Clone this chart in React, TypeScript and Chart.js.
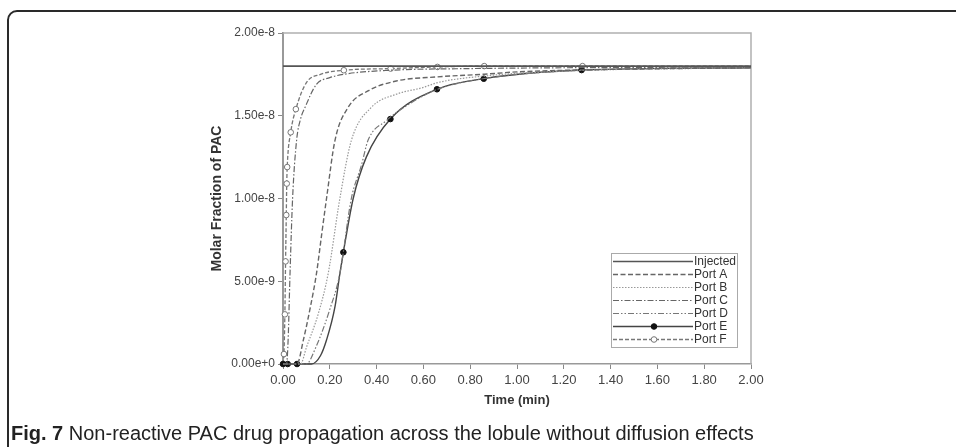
import React, { useEffect, useRef } from "react";
import { Chart, registerables } from "chart.js";

Chart.register(...registerables);

// ---- data (values in units of 1e-8 molar fraction) ----
const UNIT = 1e-8;

const injectedT = [0, 2.0];
const injectedV = [1.8, 1.8];

const portAT = [0, 0.06, 0.087, 0.115, 0.143, 0.165, 0.186, 0.222, 0.278, 0.363, 0.484, 0.66, 0.86, 1.0, 1.4, 2.0];
const portAV = [0, 0, 0.145, 0.33, 0.546, 0.78, 1.0, 1.35, 1.55, 1.65, 1.71, 1.735, 1.751, 1.765, 1.78, 1.79];

const portBT = [0, 0.075, 0.1, 0.15, 0.193, 0.243, 0.292, 0.377, 0.484, 0.597, 0.66, 0.86, 1.2, 2.0];
const portBV = [0, 0, 0.1, 0.3, 0.546, 1.0, 1.35, 1.55, 1.63, 1.67, 1.7, 1.74, 1.77, 1.79];

const portCT = [0, 0.015, 0.022, 0.03, 0.041, 0.058, 0.075, 0.094, 0.143, 0.2, 0.257, 0.46, 0.8, 1.2, 2.0];
const portCV = [0, 0, 0.15, 0.546, 1.0, 1.35, 1.48, 1.55, 1.69, 1.73, 1.75, 1.775, 1.785, 1.79, 1.795];

const portDT = [0, 0.1, 0.14, 0.2, 0.243, 0.292, 0.335, 0.363, 0.441, 0.55, 0.66, 0.86, 1.28, 2.0];
const portDV = [0, 0, 0.1, 0.33, 0.546, 1.0, 1.2, 1.35, 1.47, 1.58, 1.66, 1.725, 1.775, 1.79];

const portET = [0, 0.02, 0.06, 0.122, 0.16, 0.186, 0.222, 0.243, 0.258, 0.3, 0.356, 0.459, 0.658, 0.858, 1.276, 2.0];
const portEV = [0, 0, 0, 0, 0.05, 0.145, 0.345, 0.546, 0.675, 1.0, 1.25, 1.48, 1.66, 1.724, 1.776, 1.79];
const portEMarks = [1, 1, 1, 0, 0, 0, 0, 0, 1, 0, 0, 1, 1, 1, 1, 0];

const portFT = [0, 0.004, 0.008, 0.011, 0.014, 0.016, 0.018, 0.033, 0.055, 0.1, 0.16, 0.26, 0.46, 0.66, 0.86, 1.28, 2.0];
const portFV = [0, 0.06, 0.3, 0.62, 0.9, 1.09, 1.19, 1.4, 1.54, 1.7, 1.75, 1.775, 1.785, 1.795, 1.8, 1.8, 1.8];
const portFMarks = [0, 1, 1, 1, 1, 1, 1, 1, 1, 0, 0, 1, 1, 1, 1, 1, 0];

const seriesLabels = ["Injected", "Port A", "Port B", "Port C", "Port D", "Port E", "Port F"];
const xTickLabels = ["0.00", "0.20", "0.40", "0.60", "0.80", "1.00", "1.20", "1.40", "1.60", "1.80", "2.00"];
const yTickLabels = ["0.00e+0", "5.00e-9", "1.00e-8", "1.50e-8", "2.00e-8"];
const xTitle = "Time (min)";
const yTitle = "Molar Fraction of PAC";
const captionBold = "Fig. 7";
const captionText = " Non-reactive PAC drug propagation across the lobule without diffusion effects";

const FONT = "'Liberation Sans', Arial, sans-serif";

function pts(t: number[], v: number[]) {
  return t.map((x, i) => ({ x, y: v[i] * UNIT }));
}

const legendPlugin = {
  id: "insetLegend",
  afterDraw(chart: any) {
    const { ctx, chartArea } = chart;
    const w = 126;
    const h = 94;
    const right = chartArea.right - 14;
    const bottom = chartArea.bottom - 17;
    const left = right - w;
    const top = bottom - h;
    ctx.save();
    ctx.fillStyle = "#fff";
    ctx.fillRect(left, top, w, h);
    ctx.strokeStyle = "#aaa";
    ctx.lineWidth = 1;
    ctx.setLineDash([]);
    ctx.strokeRect(Math.round(left) + 0.5, Math.round(top) + 0.5, w, h);
    chart.data.datasets.forEach((ds: any, i: number) => {
      const y = Math.round(top + 8 + i * 13.0) + 0.5;
      ctx.beginPath();
      ctx.setLineDash(ds.borderDash || []);
      ctx.strokeStyle = ds.borderColor;
      ctx.lineWidth = ds.borderWidth;
      ctx.moveTo(left + 2, y);
      ctx.lineTo(left + 82, y);
      ctx.stroke();
      ctx.setLineDash([]);
      if (ds.legendMarker) {
        ctx.beginPath();
        ctx.arc(left + 43, y, 2.8, 0, Math.PI * 2);
        ctx.fillStyle = ds.pointBackgroundColor;
        ctx.fill();
        ctx.strokeStyle = ds.pointBorderColor;
        ctx.lineWidth = 1;
        ctx.stroke();
      }
      ctx.fillStyle = "#333";
      ctx.font = `12px ${FONT}`;
      ctx.textBaseline = "middle";
      ctx.textAlign = "left";
      ctx.fillText(ds.label, left + 83, y + 0.5);
    });
    ctx.restore();
  },
};

const framePlugin = {
  id: "plotFrame",
  beforeDatasetsDraw(chart: any) {
    const { ctx, chartArea } = chart;
    ctx.save();
    ctx.strokeStyle = "#b0b0b0";
    ctx.lineWidth = 1.5;
    ctx.beginPath();
    ctx.moveTo(chartArea.left, chartArea.top);
    ctx.lineTo(chartArea.right, chartArea.top);
    ctx.lineTo(chartArea.right, chartArea.bottom);
    ctx.stroke();
    ctx.restore();
  },
};

export default function App() {
  const canvasRef = useRef<HTMLCanvasElement | null>(null);

  useEffect(() => {
    if (!canvasRef.current) return;
    const base = {
      fill: false,
      cubicInterpolationMode: "monotone" as const,
      pointRadius: 0,
      pointHoverRadius: 0,
      clip: false as const,
    };
    const chart = new Chart(canvasRef.current, {
      type: "line",
      data: {
        datasets: [
          { ...base, label: seriesLabels[0], data: pts(injectedT, injectedV), borderColor: "#555", borderWidth: 1.6, borderDash: [] },
          { ...base, label: seriesLabels[1], data: pts(portAT, portAV), borderColor: "#666", borderWidth: 1.4, borderDash: [5, 2.5] },
          { ...base, label: seriesLabels[2], data: pts(portBT, portBV), borderColor: "#999", borderWidth: 1.2, borderDash: [1.5, 1.5] },
          { ...base, label: seriesLabels[3], data: pts(portCT, portCV), borderColor: "#666", borderWidth: 1.2, borderDash: [6, 2, 1.5, 2] },
          { ...base, label: seriesLabels[4], data: pts(portDT, portDV), borderColor: "#777", borderWidth: 1.2, borderDash: [6, 2, 1.5, 2, 1.5, 2] },
          {
            ...base,
            label: seriesLabels[5],
            data: pts(portET, portEV),
            borderColor: "#444",
            borderWidth: 1.4,
            borderDash: [],
            pointRadius: portEMarks.map((m) => (m ? 2.8 : 0)),
            pointBackgroundColor: "#111",
            pointBorderColor: "#111",
            pointBorderWidth: 1,
            legendMarker: true,
          } as any,
          {
            ...base,
            label: seriesLabels[6],
            data: pts(portFT, portFV),
            borderColor: "#777",
            borderWidth: 1.3,
            borderDash: [4, 2],
            pointRadius: portFMarks.map((m) => (m ? 2.8 : 0)),
            pointBackgroundColor: "#fff",
            pointBorderColor: "#777",
            pointBorderWidth: 1,
            legendMarker: true,
          } as any,
        ],
      },
      options: {
        animation: false,
        responsive: false,
        devicePixelRatio: 1,
        layout: { padding: { left: 206, right: 205, top: 33, bottom: 39 } },
        plugins: { legend: { display: false }, tooltip: { enabled: false } },
        scales: {
          x: {
            type: "linear",
            min: 0,
            max: 2,
            ticks: {
              stepSize: 0.2,
              autoSkip: false,
              maxRotation: 0,
              color: "#444",
              padding: 4,
              font: { family: FONT, size: 13 },
              callback: (_v: any, i: number) => xTickLabels[i] ?? "",
            },
            grid: { drawOnChartArea: false, drawTicks: true, tickLength: 5, color: "#888" },
            border: { display: true, color: "#999", width: 1.5 },
            title: { display: true, text: xTitle, color: "#333", padding: 0, font: { family: FONT, size: 13, weight: "bold" } },
            afterFit: (s: any) => {
              s.height = 44;
            },
          },
          y: {
            type: "linear",
            min: 0,
            max: 2 * UNIT,
            ticks: {
              stepSize: 0.5 * UNIT,
              autoSkip: false,
              color: "#444",
              padding: 3,
              font: { family: FONT, size: 12 },
              callback: (_v: any, i: number) => yTickLabels[i] ?? "",
            },
            grid: { drawOnChartArea: false, drawTicks: true, tickLength: 5, color: "#888" },
            border: { display: true, color: "#999", width: 2 },
            title: { display: true, text: yTitle, color: "#333", padding: { top: 3, bottom: 0 }, font: { family: FONT, size: 14, weight: "bold" } },
            afterFit: (s: any) => {
              s.width = 77;
            },
          },
        },
      } as any,
      plugins: [framePlugin, legendPlugin],
    });
    return () => chart.destroy();
  }, []);

  return (
    <div style={{ position: "fixed", left: 0, top: 0, width: 956, height: 447, overflow: "hidden", background: "#fff" }}>
      <div
        style={{
          position: "absolute",
          left: 7,
          top: 10,
          width: 1100,
          height: 700,
          border: "2px solid #2a2a2a",
          borderRadius: 10,
          boxSizing: "border-box",
        }}
      />
      <canvas ref={canvasRef} width={956} height={447} style={{ position: "absolute", left: 0, top: 0, width: 956, height: 447 }} />
      <div
        style={{
          position: "absolute",
          left: 11,
          top: 423,
          fontFamily: FONT,
          fontSize: 20,
          lineHeight: "20px",
          color: "#222",
          whiteSpace: "nowrap",
        }}
      >
        <b>{captionBold}</b>
        {captionText}
      </div>
    </div>
  );
}
